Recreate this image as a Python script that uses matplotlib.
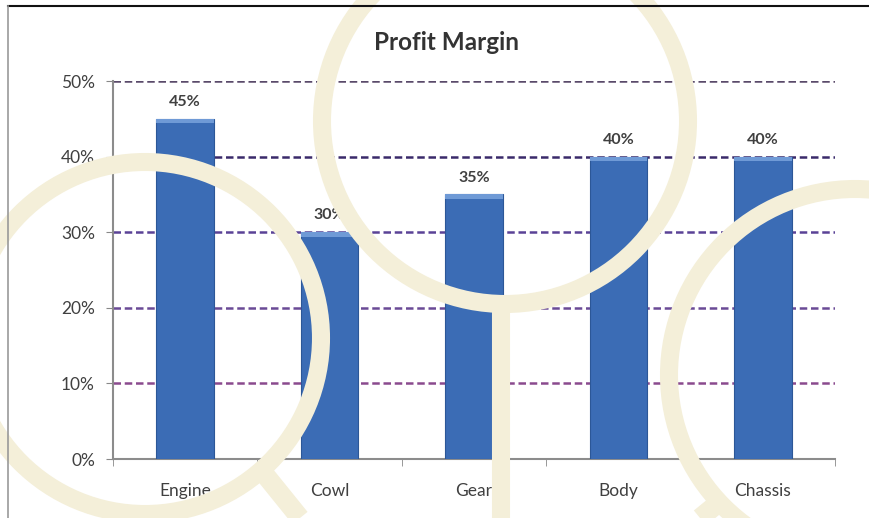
import matplotlib
matplotlib.use("Agg")
import matplotlib.pyplot as plt
from matplotlib.patches import Circle
from matplotlib.lines import Line2D
import numpy as np

categories = ["Engine", "Cowl", "Gear", "Body", "Chassis"]
margins = [45, 30, 35, 40, 40]
yticks = [0, 10, 20, 30, 40, 50]
ytick_labels = ["0%", "10%", "20%", "30%", "40%", "50%"]

W, H = 869, 518
fig = plt.figure(figsize=(W / 100, H / 100), dpi=100)
plt.rcParams['font.family'] = ['Lato', 'DejaVu Sans']

ax = fig.add_axes([113 / W, 1 - 459 / H, (835 - 113) / W, (459 - 81) / H])
x = np.arange(len(categories))
ax.bar(x, margins, width=0.4, color='#3b6cb5', edgecolor='#2c5797', linewidth=0.8, zorder=3)
ax.bar(x, [0.6] * len(x), bottom=np.array(margins) - 0.6, width=0.4, color='#6f9ad6', linewidth=0, zorder=4)

for xi, v in zip(x, margins):
    ax.text(xi, v + 1.3, f"{v}%", ha='center', va='bottom', fontsize=11.5, fontweight='bold', color='#404040')

ax.set_xlim(-0.5, len(categories) - 0.5)
ax.set_ylim(0, 50)
ax.set_yticks(yticks)
ax.set_yticklabels(ytick_labels, fontsize=12.5, color='#404040')
ax.set_xticks(x)
ax.set_xticklabels(categories, fontsize=12.5, color='#404040')
ax.set_xticks(np.arange(-0.5, len(categories)), minor=True)
ax.tick_params(axis='x', which='major', length=0, pad=17)
ax.tick_params(axis='x', which='minor', length=5, color='#888888', direction='out')
ax.tick_params(axis='y', length=5, color='#888888', direction='out', pad=8)
for s in ['top', 'right']:
    ax.spines[s].set_visible(False)
for s in ['left', 'bottom']:
    ax.spines[s].set_color('#8c8c8c')
    ax.spines[s].set_linewidth(1.5)

grid_colors = {10: '#8a4a8e', 20: '#6a4a96', 30: '#5a4296', 40: '#3a2a6a', 50: '#5a4a6a'}
for yv in yticks[1:]:
    ax.axhline(yv, color=grid_colors[yv], linestyle=(0, (3, 1.5)), linewidth=1.8, zorder=1)

fig.text(447 / W, 1 - 43 / H, "Profit Margin", ha='center', va='center', fontsize=17.5, fontweight='bold', color='#333333')

# chart frame edges and decorative overlay
ov = fig.add_axes([0, 0, 1, 1], zorder=10)
ov.set_xlim(0, W)
ov.set_ylim(H, 0)
ov.axis('off')
ov.patch.set_alpha(0)
ov.add_line(Line2D([8, W], [6, 6], color='#111111', linewidth=1.5))
ov.add_line(Line2D([8, 8], [6, H], color='#999999', linewidth=1.2))

cream = '#f4efd9'
ov.add_patch(Circle((145, 338), 176, fill=False, edgecolor=cream, linewidth=13))
ov.add_line(Line2D([258, 300], [466, 518], color=cream, linewidth=14, solid_capstyle='butt'))
ov.add_patch(Circle((505, 121), 183, fill=False, edgecolor=cream, linewidth=13))
ov.add_line(Line2D([501, 501], [300, 518], color=cream, linewidth=13, solid_capstyle='butt'))
ov.add_patch(Circle((855, 375), 186, fill=False, edgecolor=cream, linewidth=13))
ov.add_line(Line2D([722, 700], [500, 518], color=cream, linewidth=14, solid_capstyle='butt'))

fig.savefig("out.png", dpi=100)
